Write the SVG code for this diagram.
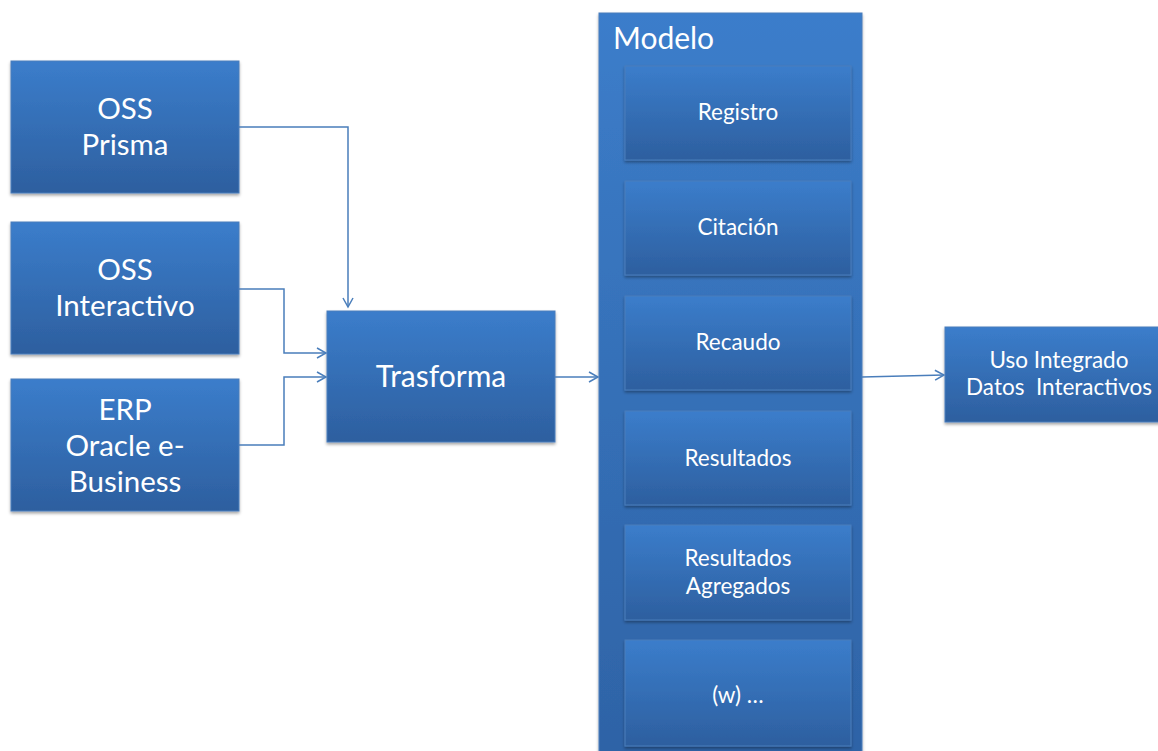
<svg xmlns="http://www.w3.org/2000/svg" width="1158" height="751" viewBox="0 0 1158 751">
<defs>
<linearGradient id="g" x1="0" y1="0" x2="0" y2="1">
<stop offset="0" stop-color="#3b7dcb"/>
<stop offset="1" stop-color="#2d5f9f"/>
</linearGradient>
<linearGradient id="gc" x1="0" y1="0" x2="0" y2="1">
<stop offset="0" stop-color="#3b7dcb"/>
<stop offset="0.15" stop-color="#3a79c4"/>
<stop offset="1" stop-color="#2e63a6"/>
</linearGradient>
<filter id="sh" x="-10%" y="-10%" width="120%" height="130%">
<feDropShadow dx="0" dy="2" stdDeviation="1.5" flood-color="#000" flood-opacity="0.35"/>
</filter>
<marker id="ah" markerWidth="12" markerHeight="12" refX="10" refY="6" orient="auto" markerUnits="userSpaceOnUse">
<path d="M1,1 L10,6 L1,11" fill="none" stroke="#4a7ebb" stroke-width="1.5"/>
</marker>
</defs>
<style>
.box{fill:url(#g);stroke:#4a7ebb;stroke-width:1;filter:url(#sh)}
.t{font-family:Lato,"Open Sans",sans-serif;fill:#fff;text-anchor:middle}
.big{font-size:29.5px}
.mid{font-size:22.5px}
.con{fill:none;stroke:#4a7ebb;stroke-width:1.5}
</style>
<g id="oss-prisma">
<rect class="box" x="11" y="61" width="228" height="132"/>
<text class="t big" x="125" y="119">OSS</text>
<text class="t big" x="125" y="155">Prisma</text>
</g>
<g id="oss-interactivo">
<rect class="box" x="11" y="222" width="228" height="132"/>
<text class="t big" x="125" y="280">OSS</text>
<text class="t big" x="125" y="316">Interactivo</text>
</g>
<g id="erp">
<rect class="box" x="11" y="379" width="228" height="132"/>
<text class="t big" x="125" y="420">ERP</text>
<text class="t big" x="125" y="456">Oracle e-</text>
<text class="t big" x="125" y="492">Business</text>
</g>
<g id="trasforma">
<rect class="box" x="327" y="311" width="228" height="131"/>
<text class="t" style="font-size:30px" x="441" y="387">Trasforma</text>
</g>
<g id="modelo">
<rect x="599" y="13" width="263" height="745" fill="url(#gc)" stroke="#4a7ebb" stroke-width="1" filter="url(#sh)"/>
<text class="t" style="font-size:30px;text-anchor:start" x="613" y="49">Modelo</text>
</g>
<g id="registro">
<rect class="box" x="625" y="66" width="226" height="94"/>
<text class="t mid" x="738" y="120">Registro</text>
</g>
<g id="citacion">
<rect class="box" x="625" y="181" width="226" height="94"/>
<text class="t mid" x="738" y="235">Citación</text>
</g>
<g id="recaudo">
<rect class="box" x="625" y="296" width="226" height="94"/>
<text class="t mid" x="738" y="350">Recaudo</text>
</g>
<g id="resultados">
<rect class="box" x="625" y="411" width="226" height="94"/>
<text class="t mid" x="738" y="466">Resultados</text>
</g>
<g id="resultados-agregados">
<rect class="box" x="625" y="525" width="226" height="95"/>
<text class="t mid" x="738" y="566">Resultados</text>
<text class="t mid" x="738" y="594">Agregados</text>
</g>
<g id="w">
<rect class="box" x="625" y="640" width="226" height="106"/>
<text class="t mid" x="738" y="703">(w) …</text>
</g>
<g id="uso">
<rect class="box" x="945" y="327" width="220" height="95"/>
<text class="t mid" x="1059" y="368">Uso Integrado</text>
<text class="t mid" x="1059" y="395" xml:space="preserve">Datos  Interactivos</text>
</g>
<g id="connectors">
<path class="con" d="M239,127 H348 V307" marker-end="url(#ah)"/>
<path class="con" d="M239,289 H284 V353 H326" marker-end="url(#ah)"/>
<path class="con" d="M239,445 H284 V377 H326" marker-end="url(#ah)"/>
<path class="con" d="M555,377 H598" marker-end="url(#ah)"/>
<path class="con" d="M862,377 L944,375" marker-end="url(#ah)"/>
</g>
</svg>
